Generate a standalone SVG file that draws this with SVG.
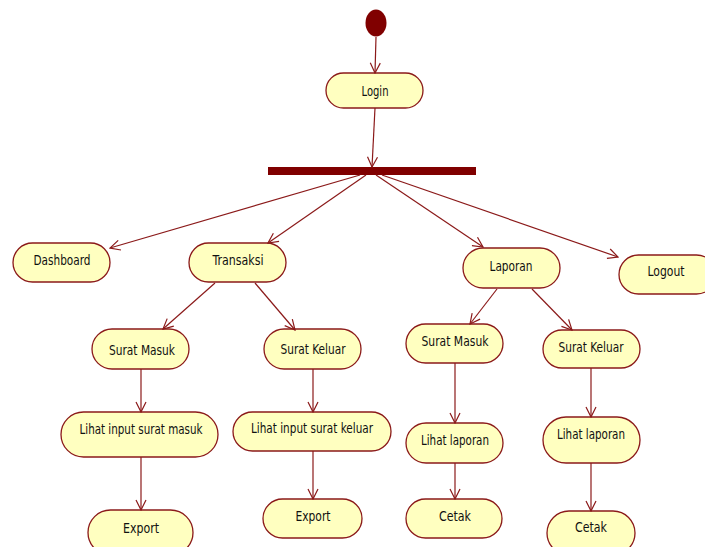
<svg xmlns="http://www.w3.org/2000/svg" width="705" height="547" viewBox="0 0 705 547">
<style>
.n{fill:#ffffc0;stroke:#8b1a1a;stroke-width:1.3}
.t{font-family:"DejaVu Sans Condensed","DejaVu Sans",sans-serif;font-size:13.5px;fill:#111;text-anchor:middle;dominant-baseline:central}
.c{stroke:#8b1a1a;stroke-width:1.2;fill:none;marker-end:url(#a)}
</style>
<defs>
<marker id="a" markerUnits="userSpaceOnUse" markerWidth="12" markerHeight="12" refX="11" refY="6" orient="auto">
<path d="M1,1 L11,6 L1,11" fill="none" stroke="#8b1a1a" stroke-width="1.2"/>
</marker>
</defs>
<rect width="705" height="547" fill="#fff"/>
<g id="start"><ellipse cx="376" cy="23" rx="10.5" ry="13.5" fill="#800000"/></g>
<g id="fork"><rect x="268" y="167" width="208" height="8" fill="#800000"/></g>
<g id="login"><rect class="n" x="326" y="73" width="97" height="35" rx="17.5"/><text class="t" x="375" y="91" textLength="27" lengthAdjust="spacingAndGlyphs">Login</text></g>
<g id="dashboard"><rect class="n" x="13" y="243" width="97" height="39" rx="19.5"/><text class="t" x="62" y="260" textLength="57" lengthAdjust="spacingAndGlyphs">Dashboard</text></g>
<g id="transaksi"><rect class="n" x="189" y="243" width="97" height="39" rx="19.5"/><text class="t" x="238" y="260" textLength="51" lengthAdjust="spacingAndGlyphs">Transaksi</text></g>
<g id="laporan"><rect class="n" x="463" y="248" width="97" height="40" rx="20"/><text class="t" x="511" y="266" textLength="43" lengthAdjust="spacingAndGlyphs">Laporan</text></g>
<g id="logout"><rect class="n" x="619" y="255" width="97" height="39" rx="19.5"/><text class="t" x="666" y="271" textLength="37" lengthAdjust="spacingAndGlyphs">Logout</text></g>
<g id="trans-surat-masuk"><rect class="n" x="92" y="329" width="97" height="40" rx="20"/><text class="t" x="142" y="350" textLength="66" lengthAdjust="spacingAndGlyphs">Surat Masuk</text></g>
<g id="trans-surat-keluar"><rect class="n" x="264" y="329" width="97" height="40" rx="20"/><text class="t" x="313" y="349" textLength="65" lengthAdjust="spacingAndGlyphs">Surat Keluar</text></g>
<g id="lap-surat-masuk"><rect class="n" x="406" y="324" width="97" height="39" rx="19.5"/><text class="t" x="455" y="341" textLength="67" lengthAdjust="spacingAndGlyphs">Surat Masuk</text></g>
<g id="lap-surat-keluar"><rect class="n" x="543" y="330" width="97" height="38" rx="19"/><text class="t" x="591" y="347" textLength="65" lengthAdjust="spacingAndGlyphs">Surat Keluar</text></g>
<g id="lihat-input-masuk"><rect class="n" x="61" y="412" width="157" height="45" rx="22.5"/><text class="t" x="141" y="429" textLength="123" lengthAdjust="spacingAndGlyphs">Lihat input surat masuk</text></g>
<g id="lihat-input-keluar"><rect class="n" x="233" y="412" width="158" height="39" rx="19.5"/><text class="t" x="312" y="428" textLength="122" lengthAdjust="spacingAndGlyphs">Lihat input surat keluar</text></g>
<g id="lihat-laporan-1"><rect class="n" x="406" y="423" width="97" height="40" rx="20"/><text class="t" x="455" y="440" textLength="68" lengthAdjust="spacingAndGlyphs">Lihat laporan</text></g>
<g id="lihat-laporan-2"><rect class="n" x="543" y="417" width="97" height="46" rx="23"/><text class="t" x="591" y="434" textLength="68" lengthAdjust="spacingAndGlyphs">Lihat laporan</text></g>
<g id="export-1"><rect class="n" x="88" y="510" width="105" height="45" rx="22.5"/><text class="t" x="141" y="528" textLength="36" lengthAdjust="spacingAndGlyphs">Export</text></g>
<g id="export-2"><rect class="n" x="263" y="499" width="99" height="39" rx="19.5"/><text class="t" x="313" y="516" textLength="35" lengthAdjust="spacingAndGlyphs">Export</text></g>
<g id="cetak-1"><rect class="n" x="406" y="499" width="96" height="39" rx="19.5"/><text class="t" x="455" y="516" textLength="32" lengthAdjust="spacingAndGlyphs">Cetak</text></g>
<g id="cetak-2"><rect class="n" x="547" y="511" width="88" height="44" rx="22"/><text class="t" x="591" y="527" textLength="32" lengthAdjust="spacingAndGlyphs">Cetak</text></g>
<g id="connectors">
<line class="c" x1="376" y1="37" x2="375" y2="73"/>
<line class="c" x1="375" y1="108" x2="372" y2="167"/>
<line class="c" x1="360" y1="175" x2="110" y2="248"/>
<line class="c" x1="366" y1="175" x2="268" y2="243"/>
<line class="c" x1="376" y1="175" x2="483" y2="247"/>
<line class="c" x1="382" y1="175" x2="618" y2="257"/>
<line class="c" x1="215" y1="283" x2="163" y2="329"/>
<line class="c" x1="255" y1="283" x2="295" y2="330"/>
<line class="c" x1="497" y1="289" x2="470" y2="324"/>
<line class="c" x1="532" y1="289" x2="572" y2="330"/>
<line class="c" x1="141" y1="369" x2="141" y2="412"/>
<line class="c" x1="313" y1="369" x2="313" y2="412"/>
<line class="c" x1="141" y1="457" x2="141" y2="510"/>
<line class="c" x1="313" y1="451" x2="313" y2="499"/>
<line class="c" x1="455" y1="363" x2="455" y2="423"/>
<line class="c" x1="591" y1="368" x2="591" y2="417"/>
<line class="c" x1="455" y1="463" x2="455" y2="499"/>
<line class="c" x1="591" y1="463" x2="591" y2="511"/>
</g>
</svg>
